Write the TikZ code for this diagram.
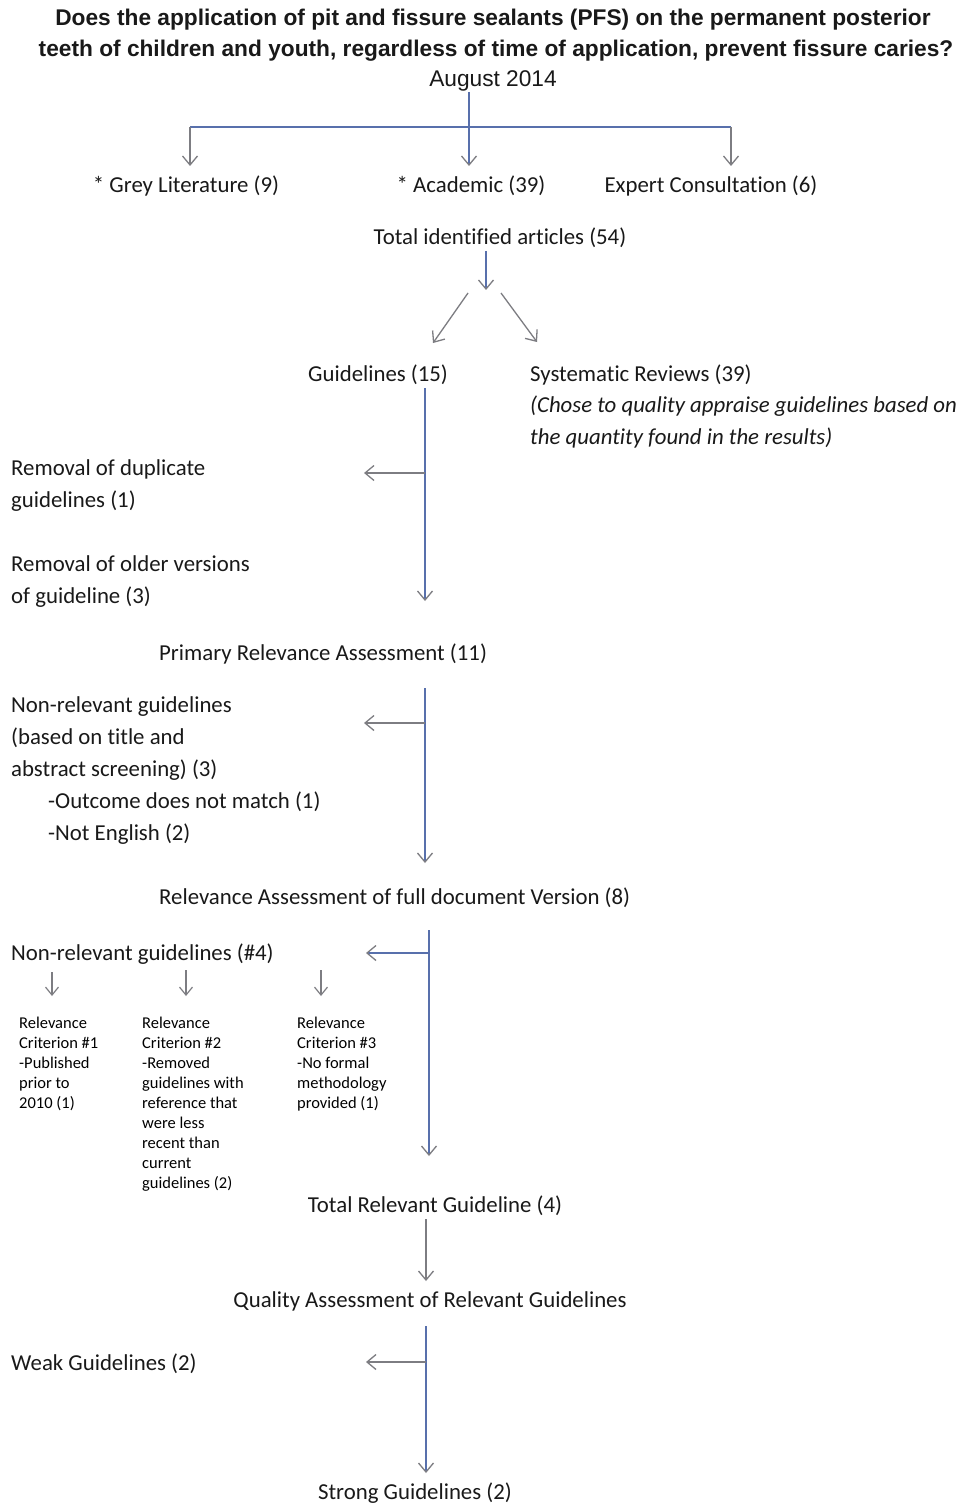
\documentclass[tikz,border=0pt]{standalone}
\usepackage{fontspec}
\setmainfont[Ligatures=NoCommon]{Carlito}
\newfontfamily\arialf{Liberation Sans}
\usetikzlibrary{arrows.meta}
\definecolor{lineblue}{RGB}{88,112,172}
\definecolor{tipgray}{RGB}{125,125,130}
\definecolor{txtc}{RGB}{25,25,25}
\newcommand\mlines[1]{\begin{tabular}[t]{@{}l@{}}#1\end{tabular}}
\begin{document}
\begin{tikzpicture}[x=1pt,y=-1pt,
  lbl/.style={inner sep=0pt, text=txtc, anchor=base west, yshift=-1.5pt, font=\fontsize{22.8}{32}\selectfont},
  lblc/.style={lbl, anchor=base},
  small/.style={inner sep=0pt, text=black, anchor=base west, font=\fontsize{16.5}{20.1}\selectfont},
  ttl/.style={inner sep=0pt, text=txtc, anchor=base, font=\arialf\bfseries\fontsize{22.7}{31}\selectfont},
  mainln/.style={draw=lineblue, line width=1.4pt},
  mainar/.style={mainln, -{Straight Barb[length=9pt,width=15pt,color=tipgray,line width=1.3pt]}},
  greyar/.style={draw=tipgray, line width=1.3pt, -{Straight Barb[length=9pt,width=15pt,color=tipgray,line width=1.3pt]}},
  smallar/.style={draw=tipgray, line width=1.2pt, -{Straight Barb[length=8pt,width=13pt,color=tipgray,line width=1.2pt]}}
]
\useasboundingbox (0,0) rectangle (958,1503);
\fill[white] (0,0) rectangle (958,1503);

% Title
\node[ttl] (t1) at (493,26) {Does the application of pit and fissure sealants (PFS) on the permanent posterior};
\node[ttl] (t2) at (496,57) {teeth of children and youth, regardless of time of application, prevent fissure caries?};
\node[ttl, font=\arialf\fontsize{22.7}{31}\selectfont] (aug) at (493,87) {August 2014};

% Sources
\node[lblc] (grey) at (186,191) {* Grey Literature (9)};
\node[lblc] (acad) at (471,191) {* Academic (39)};
\node[lblc] (expert) at (711,191) {Expert Consultation (6)};
\node[lblc] (total) at (500,243) {Total identified articles (54)};

\coordinate (s0) at (469,92);
\coordinate (bM) at (469,127);
\coordinate (bL) at (190,127);
\coordinate (bR) at (731,127);
\coordinate (eL) at (190,166);
\coordinate (eM) at (469,166);
\coordinate (eR) at (731,166);
\draw[mainln] (bL) -- (bR);
\draw[mainar] (s0) -- (eM);
\draw[greyar] (bL) -- (eL);
\draw[greyar] (bR) -- (eR);

\coordinate (tot0) at (486,251);
\coordinate (tot1) at (486,290);
\draw[mainar] (tot0) -- (tot1);
\coordinate (dL0) at (468,293);
\coordinate (dL1) at (433,343);
\coordinate (dR0) at (501,293);
\coordinate (dR1) at (537,342);
\draw[greyar] (dL0) -- (dL1);
\draw[greyar] (dR0) -- (dR1);

\node[lbl] (guide) at (308,380) {Guidelines (15)};
\node[lbl] (sysrev) at (530,380) {Systematic Reviews (39)};
\node[lbl] (sysnote) at (530,411) {\mlines{\itshape (Chose to quality appraise guidelines based on\\ \itshape the quantity found in the results)}};

% Guidelines column
\coordinate (g0) at (425,388);
\coordinate (g1) at (425,601);
\coordinate (gb) at (425,473);
\coordinate (gbe) at (364,473);
\draw[mainar] (g0) -- (g1);
\draw[greyar] (gb) -- (gbe);
\node[lbl] (dup) at (11,474) {\mlines{Removal of duplicate\\guidelines (1)}};
\node[lbl] (older) at (11,570) {\mlines{Removal of older versions\\of guideline (3)}};

\node[lbl] (prim) at (159,659) {Primary Relevance Assessment (11)};
\coordinate (p0) at (425,688);
\coordinate (p1) at (425,863);
\coordinate (pb) at (425,723);
\coordinate (pbe) at (364,723);
\draw[mainar] (p0) -- (p1);
\draw[greyar] (pb) -- (pbe);
\node[lbl] (nonrel) at (11,711) {\mlines{Non-relevant guidelines\\(based on title and\\abstract screening) (3)\\\hspace{37pt}-Outcome does not match (1)\\\hspace{37pt}-Not English (2)}};

\node[lbl] (full) at (159,903) {Relevance Assessment of full document Version (8)};
\coordinate (f0) at (429,930);
\coordinate (f1) at (429,1156);
\coordinate (fb) at (429,953);
\coordinate (fbe) at (366,953);
\draw[mainar] (f0) -- (f1);
\draw[mainar] (fb) -- (fbe);
\node[lbl] (nonrel4) at (11,959) {Non-relevant guidelines (\#4)};

\coordinate (c10) at (52,972);
\coordinate (c11) at (52,996);
\coordinate (c20) at (186,970);
\coordinate (c21) at (186,996);
\coordinate (c30) at (321,970);
\coordinate (c31) at (321,996);
\draw[smallar] (c10) -- (c11);
\draw[smallar] (c20) -- (c21);
\draw[smallar] (c30) -- (c31);
\node[small] (crit1) at (19,1028) {\mlines{Relevance\\Criterion \#1\\-Published\\prior to\\2010 (1)}};
\node[small] (crit2) at (142,1028) {\mlines{Relevance\\Criterion \#2\\-Removed\\guidelines with\\reference that\\were less\\recent than\\current\\guidelines (2)}};
\node[small] (crit3) at (297,1028) {\mlines{Relevance\\Criterion \#3\\-No formal\\methodology\\provided (1)}};

\node[lblc] (trel) at (435,1211) {Total Relevant Guideline (4)};
\coordinate (r0) at (426,1219);
\coordinate (r1) at (426,1281);
\draw[greyar] (r0) -- (r1);
\node[lblc] (qual) at (430,1306) {Quality Assessment of Relevant Guidelines};
\coordinate (q0) at (426,1326);
\coordinate (q1) at (426,1473);
\coordinate (qb) at (426,1362);
\coordinate (qbe) at (366,1362);
\draw[mainar] (q0) -- (q1);
\draw[greyar] (qb) -- (qbe);
\node[lbl] (weak) at (11,1369) {Weak Guidelines (2)};
\node[lblc] (strong) at (415,1498) {Strong Guidelines (2)};
\end{tikzpicture}
\end{document}
